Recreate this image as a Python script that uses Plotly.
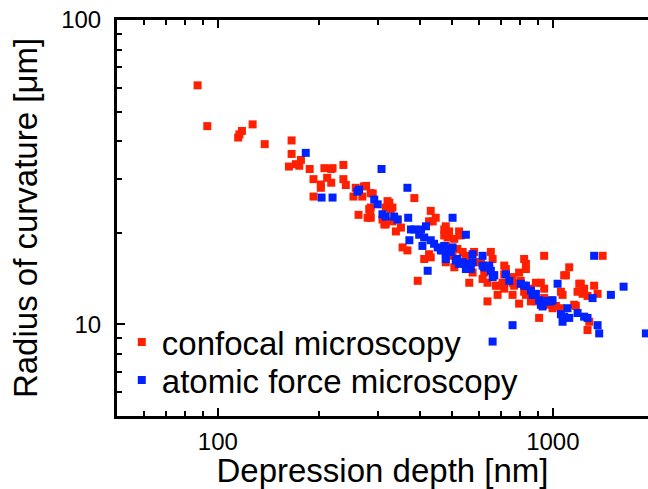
import plotly.graph_objects as go

# Confocal microscopy (red)
confocal_depth_nm = [87, 93, 127, 118, 116, 115, 138, 166, 166, 177, 171, 163, 175, 188, 208, 218, 237,
    193, 212, 203, 218, 203, 237, 241, 193, 254, 263, 258, 273, 270, 286, 325, 317, 286, 280, 310,
    314, 344, 352, 340, 386, 432, 447, 438, 479, 474, 525, 356, 368, 413, 432, 427, 395, 485, 508,
    479, 519, 563, 582, 589, 610, 653, 661, 617, 638, 684, 684, 716, 716, 758, 758, 821, 831, 793,
    821, 860, 860, 942, 921, 942, 975, 910, 998, 1081, 1119, 1199, 1240, 1185, 1158, 1328, 1360,
    1408, 1269, 1284, 1057, 986, 793, 638, 285, 277, 290, 321, 332, 490, 474, 531, 502, 479, 508,
    538, 550, 556, 576, 624, 668, 676, 724, 708, 716, 758, 766, 793, 802, 831, 831, 850, 890, 870,
    900, 942, 1021, 1057, 1069, 1094, 1171, 1212, 1227, 1269, 328, 220, 283, 286, 317, 332, 427]
confocal_radius_um = [61, 44.8, 45.4, 43.2, 42.1, 41.1, 39.1, 40.2, 36.3, 34.7, 33.6, 33.0, 33.2, 32.4,
    32.6, 32.4, 33.4, 30.0, 30.3, 28.8, 29.2, 28.1, 30.0, 28.7, 26.3, 26.3, 22.9, 28.1, 28.4, 26.3,
    27.0, 25.1, 24.2, 24.2, 22.4, 22.1, 21.3, 22.1, 20.8, 20.2, 26.0, 23.6, 22.4, 21.8, 21.0, 20.5,
    20.2, 17.9, 17.5, 16.4, 16.6, 17.0, 13.9, 19.3, 19.1, 18.1, 17.7, 13.7, 17.3, 16.0, 16.0, 17.3,
    16.4, 14.1, 13.7, 13.4, 12.5, 15.6, 14.6, 13.7, 12.5, 16.4, 15.2, 13.6, 12.8, 13.1, 11.9, 16.8,
    13.7, 12.2, 11.6, 10.5, 11.3, 14.5, 15.4, 13.6, 13.1, 12.8, 11.6, 13.4, 12.6, 16.8, 9.58, 10.2,
    12.8, 12.0, 11.7, 11.9, 22.8, 28.5, 26.9, 25.4, 24.2, 20.2, 19.6, 19.6, 16.8, 16.0, 15.4, 17.3,
    16.8, 16.0, 14.8, 14.8, 14.5, 13.4, 15.2, 13.7, 13.1, 14.3, 13.4, 14.8, 13.9, 15.8, 12.5, 12.9,
    13.7, 12.2, 11.9, 13.1, 11.5, 11.3, 12.5, 14.5, 11.5, 13.6, 12.6, 12.4, 23.9, 32.6, 23.9, 22.4,
    21.3, 21.8, 21.8]

# Atomic force microscopy (blue)
afm_depth_nm = [183, 204, 220, 261, 264, 308, 293, 300, 310, 317, 336, 344, 368, 370, 377, 386, 404,
    418, 373, 399, 413, 408, 432, 442, 453, 463, 479, 479, 496, 502, 502, 550, 423, 519, 525, 550,
    563, 576, 576, 617, 624, 646, 653, 668, 724, 741, 802, 821, 860, 870, 910, 921, 942, 986, 1033,
    1057, 1069, 1119, 1106, 1185, 1269, 1328, 1314, 1490, 1626, 1360, 1375, 758, 661, 1895, 474,
    485, 469, 513, 538, 556, 550, 569, 617, 631, 661, 831, 890, 932, 964, 998, 1081, 1240]
afm_radius_um = [36.6, 26.1, 26.1, 27.3, 27.7, 32.4, 25.7, 24.8, 23.0, 22.6, 22.6, 22.1, 28.1, 22.4,
    20.5, 20.5, 20.5, 21.0, 18.9, 19.7, 19.3, 18.1, 18.9, 18.4, 17.9, 17.5, 17.0, 16.4, 17.3, 17.9,
    22.4, 19.7, 15.0, 16.4, 15.8, 15.8, 15.4, 16.0, 17.0, 16.8, 15.4, 15.6, 15.0, 14.5, 14.6, 13.9,
    13.6, 13.4, 12.9, 12.5, 12.0, 11.6, 11.9, 11.9, 13.6, 10.8, 10.2, 10.5, 11.3, 10.9, 10.5, 16.8,
    12.2, 12.5, 13.3, 9.94, 9.34, 9.94, 8.78, 9.34, 18.1, 17.7, 17.5, 16.2, 16.0, 15.6, 15.2, 15.2,
    15.6, 15.4, 14.3, 13.4, 12.6, 11.45, 11.9, 12.0, 10.6, 10.6]

x_major_ticks = [100, 1000]
x_major_labels = ["100", "1000"]
x_minor_ticks = [60, 70, 80, 90, 200, 300, 400, 500, 600, 700, 800, 900]
y_major_ticks = [10, 100]
y_major_labels = ["10", "100"]
y_minor_ticks = [6, 7, 8, 9, 20, 30, 40, 50, 60, 70, 80, 90]

RED = "rgb(255,32,0)"
BLUE = "rgb(0,34,255)"
FONT = "Liberation Sans, Arial, Helvetica, sans-serif"

fig = go.Figure()
fig.add_trace(go.Scatter(x=confocal_depth_nm, y=confocal_radius_um, mode="markers",
                         name="confocal microscopy", legend="legend",
                         marker=dict(symbol="square", size=8, color=RED, line=dict(width=0))))
fig.add_trace(go.Scatter(x=afm_depth_nm, y=afm_radius_um, mode="markers",
                         name="atomic force microscopy", legend="legend2",
                         marker=dict(symbol="square", size=8, color=BLUE, line=dict(width=0))))

axis_common = dict(showline=True, linewidth=3, linecolor="black", ticks="inside",
                   ticklen=8, tickwidth=2, tickcolor="black", showgrid=False, zeroline=False,
                   tickfont=dict(size=24, color="black", family=FONT))

fig.update_xaxes(type="log", range=[1.69897, 3.284], mirror="ticks",
                 tickmode="array", tickvals=x_major_ticks, ticktext=x_major_labels,
                 minor=dict(tickmode="array", tickvals=x_minor_ticks, ticks="inside",
                            ticklen=5, tickwidth=2, tickcolor="black", showgrid=False),
                 title=dict(text="Depression depth [nm]", font=dict(size=33, color="black", family=FONT),
                            standoff=3),
                 ticklabelstandoff=2,
                 **axis_common)
fig.update_yaxes(type="log", range=[0.69897, 2.0], mirror=False,
                 tickmode="array", tickvals=y_major_ticks, ticktext=y_major_labels,
                 minor=dict(tickmode="array", tickvals=y_minor_ticks, ticks="inside",
                            ticklen=5, tickwidth=2, tickcolor="black", showgrid=False),
                 title=dict(text="Radius of curvature [μm]", font=dict(size=33, color="black", family=FONT),
                            standoff=14),
                 ticklabelstandoff=8,
                 **axis_common)

legend_common = dict(x=0.009, xanchor="left", yanchor="middle", bgcolor="rgba(0,0,0,0)",
                     font=dict(size=33, color="black", family=FONT), itemwidth=30)

fig.update_layout(
    width=648, height=489,
    margin=dict(l=117, r=0, t=20, b=73),
    paper_bgcolor="white", plot_bgcolor="white",
    font=dict(family=FONT, color="black"),
    showlegend=True,
    legend=dict(y=0.187, **legend_common),
    legend2=dict(y=0.091, **legend_common),
)

fig.write_html("out.html")
